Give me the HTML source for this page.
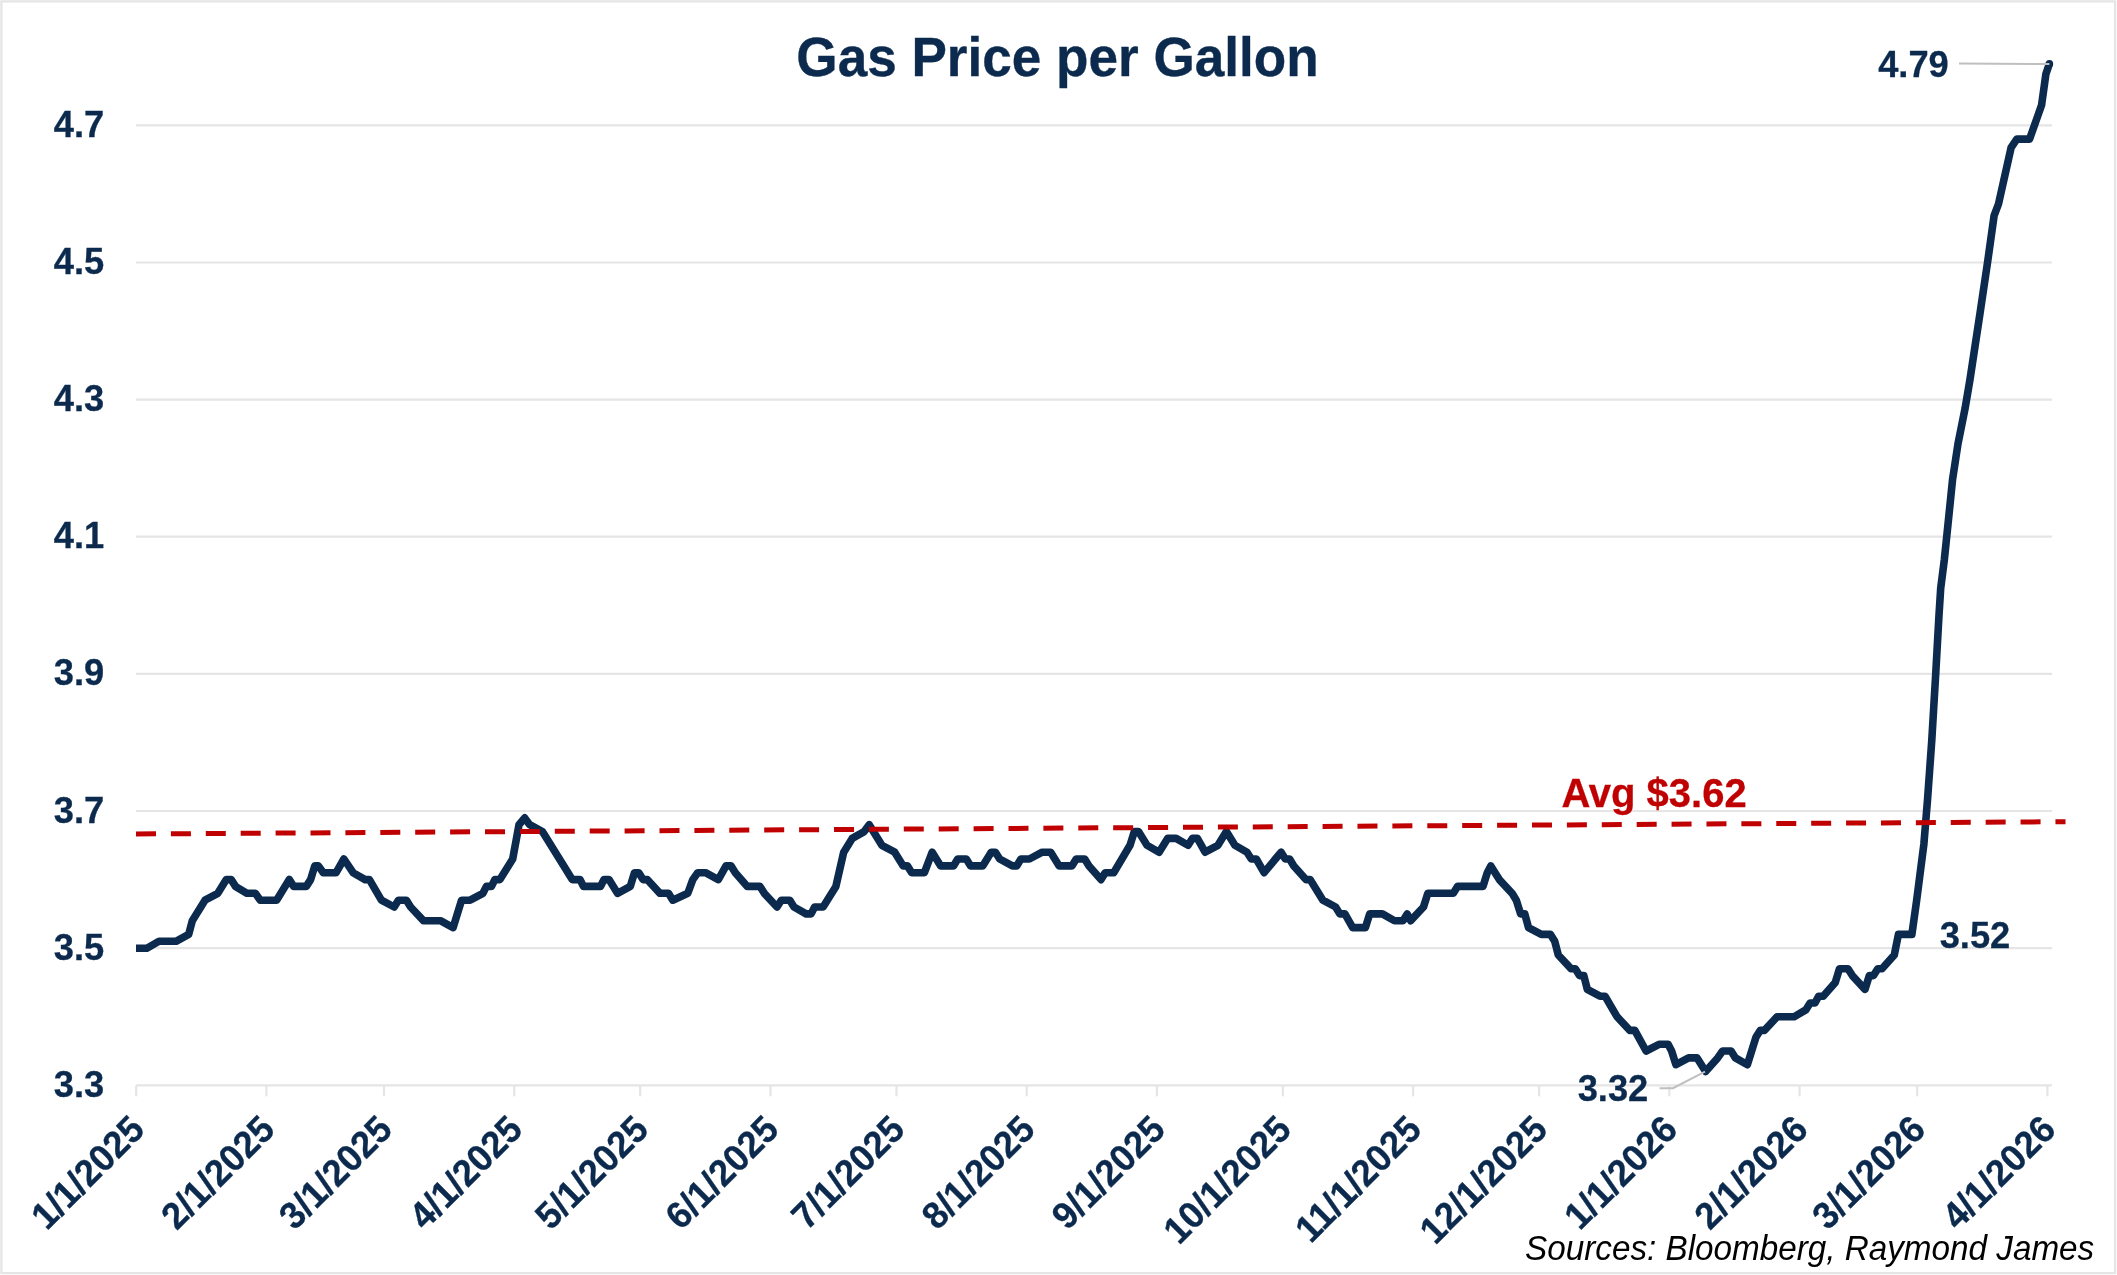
<!DOCTYPE html>
<html lang="en">
<head>
<meta charset="utf-8">
<title>Gas Price per Gallon</title>
<style>
html,body{margin:0;padding:0;background:#fff;}
body{width:2117px;height:1275px;overflow:hidden;}
svg{display:block;will-change:transform;opacity:0.9999;}
text{font-family:"Liberation Sans", Arial, Helvetica, sans-serif;}
.b{font-weight:bold;fill:#0b2a4d;font-size:36.3px;stroke:#0b2a4d;stroke-width:0.3px;}
</style>
</head>
<body>
<svg width="2117" height="1275" viewBox="0 0 2117 1275">
<rect x="0" y="0" width="2117" height="1275" fill="#ffffff"/>
<rect x="1.4" y="1.4" width="2113.7" height="1271.7" fill="none" stroke="#e5e5e5" stroke-width="2.3"/>

<g stroke="#e5e5e5" stroke-width="2.2" fill="none">
<line x1="136" y1="1085.3" x2="2052" y2="1085.3"/>
<line x1="136" y1="948.2" x2="2052" y2="948.2"/>
<line x1="136" y1="811.0" x2="2052" y2="811.0"/>
<line x1="136" y1="673.9" x2="2052" y2="673.9"/>
<line x1="136" y1="536.7" x2="2052" y2="536.7"/>
<line x1="136" y1="399.6" x2="2052" y2="399.6"/>
<line x1="136" y1="262.5" x2="2052" y2="262.5"/>
<line x1="136" y1="125.3" x2="2052" y2="125.3"/>
<line x1="136.2" y1="1085.3" x2="136.2" y2="1096.3"/>
<line x1="266.4" y1="1085.3" x2="266.4" y2="1096.3"/>
<line x1="384.0" y1="1085.3" x2="384.0" y2="1096.3"/>
<line x1="514.2" y1="1085.3" x2="514.2" y2="1096.3"/>
<line x1="640.2" y1="1085.3" x2="640.2" y2="1096.3"/>
<line x1="770.5" y1="1085.3" x2="770.5" y2="1096.3"/>
<line x1="896.5" y1="1085.3" x2="896.5" y2="1096.3"/>
<line x1="1026.7" y1="1085.3" x2="1026.7" y2="1096.3"/>
<line x1="1156.9" y1="1085.3" x2="1156.9" y2="1096.3"/>
<line x1="1282.9" y1="1085.3" x2="1282.9" y2="1096.3"/>
<line x1="1413.1" y1="1085.3" x2="1413.1" y2="1096.3"/>
<line x1="1539.1" y1="1085.3" x2="1539.1" y2="1096.3"/>
<line x1="1669.3" y1="1085.3" x2="1669.3" y2="1096.3"/>
<line x1="1799.6" y1="1085.3" x2="1799.6" y2="1096.3"/>
<line x1="1917.2" y1="1085.3" x2="1917.2" y2="1096.3"/>
<line x1="2047.4" y1="1085.3" x2="2047.4" y2="1096.3"/>
</g>
<text style="font-weight:bold;font-size:53.1px;fill:#0b2a4d;stroke:#0b2a4d;stroke-width:0.35px" text-anchor="middle" transform="translate(1057.5 76.4) scale(1 1.03)">Gas Price per Gallon</text>
<text class="b" text-anchor="end" transform="translate(104.3 1096.8) scale(1 1.03)">3.3</text>
<text class="b" text-anchor="end" transform="translate(104.3 959.7) scale(1 1.03)">3.5</text>
<text class="b" text-anchor="end" transform="translate(104.3 822.5) scale(1 1.03)">3.7</text>
<text class="b" text-anchor="end" transform="translate(104.3 685.4) scale(1 1.03)">3.9</text>
<text class="b" text-anchor="end" transform="translate(104.3 548.2) scale(1 1.03)">4.1</text>
<text class="b" text-anchor="end" transform="translate(104.3 411.1) scale(1 1.03)">4.3</text>
<text class="b" text-anchor="end" transform="translate(104.3 274.0) scale(1 1.03)">4.5</text>
<text class="b" text-anchor="end" transform="translate(104.3 136.8) scale(1 1.03)">4.7</text>
<text class="b" text-anchor="end" transform="translate(146.5 1131.5) rotate(-45) scale(1 1.03)">1/1/2025</text>
<text class="b" text-anchor="end" transform="translate(276.7 1131.5) rotate(-45) scale(1 1.03)">2/1/2025</text>
<text class="b" text-anchor="end" transform="translate(394.3 1131.5) rotate(-45) scale(1 1.03)">3/1/2025</text>
<text class="b" text-anchor="end" transform="translate(524.5 1131.5) rotate(-45) scale(1 1.03)">4/1/2025</text>
<text class="b" text-anchor="end" transform="translate(650.5 1131.5) rotate(-45) scale(1 1.03)">5/1/2025</text>
<text class="b" text-anchor="end" transform="translate(780.8 1131.5) rotate(-45) scale(1 1.03)">6/1/2025</text>
<text class="b" text-anchor="end" transform="translate(906.8 1131.5) rotate(-45) scale(1 1.03)">7/1/2025</text>
<text class="b" text-anchor="end" transform="translate(1037.0 1131.5) rotate(-45) scale(1 1.03)">8/1/2025</text>
<text class="b" text-anchor="end" transform="translate(1167.2 1131.5) rotate(-45) scale(1 1.03)">9/1/2025</text>
<text class="b" text-anchor="end" transform="translate(1293.2 1131.5) rotate(-45) scale(1 1.03)">10/1/2025</text>
<text class="b" text-anchor="end" transform="translate(1423.4 1131.5) rotate(-45) scale(1 1.03)">11/1/2025</text>
<text class="b" text-anchor="end" transform="translate(1549.4 1131.5) rotate(-45) scale(1 1.03)">12/1/2025</text>
<text class="b" text-anchor="end" transform="translate(1679.6 1131.5) rotate(-45) scale(1 1.03)">1/1/2026</text>
<text class="b" text-anchor="end" transform="translate(1809.9 1131.5) rotate(-45) scale(1 1.03)">2/1/2026</text>
<text class="b" text-anchor="end" transform="translate(1927.5 1131.5) rotate(-45) scale(1 1.03)">3/1/2026</text>
<text class="b" text-anchor="end" transform="translate(2057.7 1131.5) rotate(-45) scale(1 1.03)">4/1/2026</text>
<path d="M136.0,948.2 L146.9,948.2 L159.0,941.3 L176.0,941.3 L188.7,934.4 L192.3,920.7 L205.0,900.2 L217.8,893.3 L226.3,879.6 L231.2,879.6 L235.5,886.4 L246.8,893.3 L255.3,893.3 L260.3,900.2 L276.6,900.2 L289.3,879.6 L293.6,886.4 L306.3,886.4 L310.6,879.6 L314.8,865.9 L318.4,865.9 L323.3,872.7 L336.1,872.7 L343.9,859.0 L353.1,872.7 L365.1,879.6 L369.4,879.6 L381.4,900.2 L394.2,907.0 L398.4,900.2 L406.4,900.2 L410.6,907.0 L423.4,920.7 L440.4,920.7 L453.1,927.6 L461.6,900.2 L470.1,900.2 L482.9,893.3 L486.4,886.4 L491.4,886.4 L494.9,879.6 L499.9,879.6 L512.7,859.0 L519.0,824.7 L524.7,817.9 L529.7,824.7 L542.4,831.6 L572.2,879.6 L580.0,879.6 L583.5,886.4 L600.5,886.4 L604.0,879.6 L609.0,879.6 L617.5,893.3 L630.3,886.4 L634.5,872.7 L638.8,872.7 L643.0,879.6 L647.3,879.6 L660.0,893.3 L668.5,893.3 L672.8,900.2 L687.8,893.3 L692.8,879.6 L697.7,872.7 L705.5,872.7 L718.3,879.6 L726.0,865.9 L731.0,865.9 L735.3,872.7 L747.3,886.4 L760.0,886.4 L764.3,893.3 L777.0,907.0 L781.3,900.2 L789.8,900.2 L794.0,907.0 L806.1,913.9 L811.1,913.9 L814.6,907.0 L823.1,907.0 L835.9,886.4 L843.7,852.2 L852.2,838.4 L864.2,831.6 L869.2,824.7 L881.9,845.3 L894.7,852.2 L903.2,865.9 L907.4,865.9 L911.7,872.7 L924.4,872.7 L932.2,852.2 L940.7,865.9 L953.5,865.9 L957.7,859.0 L966.3,859.0 L970.6,865.9 L982.7,865.9 L991.2,852.2 L995.4,852.2 L999.7,859.0 L1012.4,865.9 L1016.7,865.9 L1020.9,859.0 L1029.4,859.0 L1042.2,852.2 L1050.7,852.2 L1059.2,865.9 L1071.9,865.9 L1076.2,859.0 L1084.7,859.0 L1089.0,865.9 L1101.0,879.6 L1105.2,872.7 L1113.7,872.7 L1130.0,845.3 L1134.3,831.6 L1138.5,831.6 L1147.0,845.3 L1159.1,852.2 L1167.6,838.4 L1176.1,838.4 L1188.1,845.3 L1192.4,838.4 L1197.4,838.4 L1205.1,852.2 L1217.9,845.3 L1226.4,831.6 L1234.9,845.3 L1247.0,852.2 L1251.3,859.0 L1256.3,859.0 L1264.1,872.7 L1275.4,859.0 L1281.1,852.2 L1285.3,859.0 L1289.6,859.0 L1293.8,865.9 L1305.9,879.6 L1310.1,879.6 L1322.9,900.2 L1335.6,907.0 L1339.9,913.9 L1344.9,913.9 L1352.7,927.6 L1365.4,927.6 L1369.7,913.9 L1382.4,913.9 L1394.5,920.7 L1403.0,920.7 L1407.2,913.9 L1410.7,920.7 L1423.5,907.0 L1427.8,893.3 L1453.3,893.3 L1457.5,886.4 L1483.0,886.4 L1487.3,872.7 L1490.8,865.9 L1499.3,879.6 L1512.1,893.3 L1516.3,900.2 L1520.6,913.9 L1524.8,913.9 L1528.5,927.6 L1541.3,934.4 L1550.5,934.4 L1554.7,941.3 L1558.3,955.0 L1571.0,968.7 L1575.3,968.7 L1579.5,975.6 L1583.8,975.6 L1587.3,989.3 L1600.0,996.2 L1605.0,996.2 L1617.0,1016.7 L1629.8,1030.4 L1634.8,1030.4 L1646.1,1051.0 L1659.6,1044.2 L1668.1,1044.2 L1671.6,1051.0 L1675.9,1064.7 L1688.6,1057.9 L1697.1,1057.9 L1705.6,1071.6 L1717.7,1057.9 L1722.6,1051.0 L1731.1,1051.0 L1735.4,1057.9 L1747.4,1064.7 L1755.9,1037.3 L1760.2,1030.4 L1764.4,1030.4 L1777.2,1016.7 L1794.2,1016.7 L1805.8,1009.9 L1810.1,1003.0 L1815.0,1003.0 L1818.6,996.2 L1823.2,996.2 L1835.3,982.4 L1839.5,968.7 L1848.0,968.7 L1852.3,975.6 L1865.0,989.3 L1869.3,975.6 L1873.5,975.6 L1877.8,968.7 L1882.0,968.7 L1894.3,955.0 L1898.4,934.4 L1911.9,934.4 L1916.7,900.0 L1923.9,843.9 L1927.5,800.0 L1931.8,740.0 L1935.7,674.1 L1938.9,616.7 L1940.7,588.3 L1944.3,560.0 L1946.7,536.9 L1952.6,479.2 L1958.0,443.8 L1965.1,408.3 L1969.9,380.0 L1980.0,313.4 L1987.5,262.8 L1994.1,215.6 L1998.5,204.0 L2011.1,147.6 L2016.8,139.1 L2029.6,139.1 L2041.6,105.1 L2045.9,73.9 L2049.4,63.7" fill="none" stroke="#0b2a4d" stroke-width="7.6" stroke-linejoin="round" stroke-linecap="butt"/>
<circle cx="2049.4" cy="63.7" r="3.8" fill="#0b2a4d"/>
<g stroke="#bfbfbf" stroke-width="2" fill="none">
<polyline points="1659.6,1088.2 1673,1088.2 1705,1071.6"/>
<line x1="1959" y1="63.4" x2="2049.4" y2="64.1"/>
</g>
<line x1="136" y1="834" x2="2065.5" y2="821.7" stroke="#c00000" stroke-width="5" stroke-dasharray="20 14.9"/>
<text class="b" text-anchor="middle" transform="translate(1913.5 77.0) scale(1 1.03)">4.79</text>
<text class="b" text-anchor="middle" transform="translate(1975.0 947.6) scale(1 1.03)">3.52</text>
<text class="b" text-anchor="middle" transform="translate(1613.0 1101.0) scale(1 1.03)">3.32</text>
<text style="font-weight:bold;font-size:40px;fill:#c00000;stroke:#c00000;stroke-width:0.3px" text-anchor="middle" transform="translate(1654.0 806.6) scale(1 1.03)">Avg $3.62</text>
<text style="font-style:italic;font-size:33.25px;fill:#000" text-anchor="end" transform="translate(2094.2 1259.5) scale(1 1.03)">Sources: Bloomberg, Raymond James</text>
</svg>
</body>
</html>
